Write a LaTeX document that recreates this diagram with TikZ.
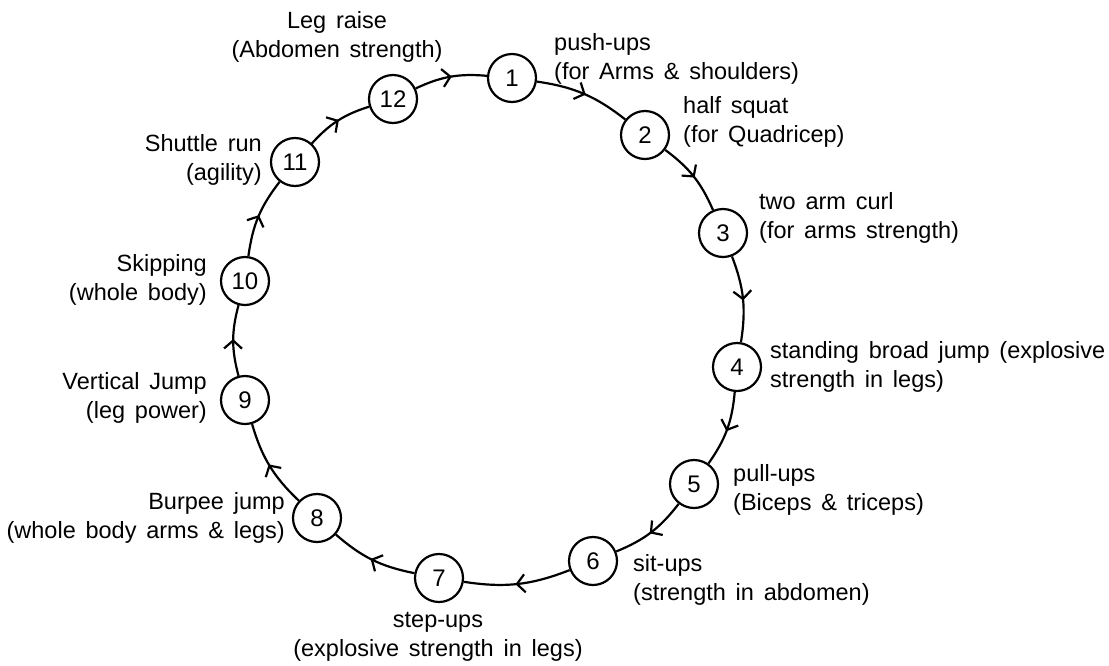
\documentclass[tikz,border=0pt]{standalone}
\usepackage{fontspec}
\setmainfont{Liberation Sans}[WordSpace=1.5]
\usetikzlibrary{arrows.meta,decorations.markings}
\begin{document}
\begin{tikzpicture}[x=1pt,y=-1pt,
  stepnode/.style={circle,draw,line width=2.2pt,minimum size=48pt,inner sep=0pt,
    font=\fontsize{24}{28}\selectfont},
  lbl/.style={inner sep=0pt,font=\fontsize{23.5}{29}\selectfont},
  flow/.style={line width=2.2pt,postaction={decorate},
    decoration={markings,mark=at position 0.52 with
      {\arrow{Straight Barb[length=8pt,width=18pt]}}}}
]
\useasboundingbox (0,0) rectangle (1109,665);

% stations of the circuit
\node[stepnode] (n1)  at (512,78)  {1};
\node[stepnode] (n2)  at (645,135) {2};
\node[stepnode] (n3)  at (723,233) {3};
\node[stepnode] (n4)  at (737,367) {4};
\node[stepnode] (n5)  at (694,484) {5};
\node[stepnode] (n6)  at (593,561) {6};
\node[stepnode] (n7)  at (439,578) {7};
\node[stepnode] (n8)  at (317,518) {8};
\node[stepnode] (n9)  at (245,400) {9};
\node[stepnode] (n10) at (245,281) {10};
\node[stepnode] (n11) at (295,162) {11};
\node[stepnode] (n12) at (393,99)  {12};

% exercise descriptions
\node[lbl,anchor=west,align=left]  (l1)  at (554,59)  {push-ups\\(for Arms \& shoulders)};
\node[lbl,anchor=west,align=left]  (l2)  at (683,122) {half squat\\(for Quadricep)};
\node[lbl,anchor=west,align=left]  (l3)  at (759,218) {two arm curl\\(for arms strength)};
\node[lbl,anchor=west,align=left]  (l4)  at (770,367) {standing broad jump (explosive\\strength in legs)};
\node[lbl,anchor=west,align=left]  (l5)  at (733,490) {pull-ups\\(Biceps \& triceps)};
\node[lbl,anchor=west,align=left]  (l6)  at (633,580) {sit-ups\\(strength in abdomen)};
\node[lbl,align=center]            (l7)  at (438,637) {step-ups\\(explosive strength in legs)};
\node[lbl,anchor=east,align=right] (l8)  at (285,518) {Burpee jump\\(whole body arms \& legs)};
\node[lbl,anchor=east,align=right] (l9)  at (207,398) {Vertical Jump\\(leg power)};
\node[lbl,anchor=east,align=right] (l10) at (207,280) {Skipping\\(whole body)};
\node[lbl,anchor=east,align=right] (l11) at (262,160) {Shuttle run\\(agility)};
\node[lbl,align=center]            (l12) at (337,37)  {Leg raise\\(Abdomen strength)};

% clockwise circuit
\draw[flow] (n1)  to[bend left=15] (n2);
\draw[flow] (n2)  to[bend left=15] (n3);
\draw[flow] (n3)  to[bend left=15] (n4);
\draw[flow] (n4)  to[bend left=15] (n5);
\draw[flow] (n5)  to[bend left=15] (n6);
\draw[flow] (n6)  to[bend left=15] (n7);
\draw[flow] (n7)  to[bend left=15] (n8);
\draw[flow] (n8)  to[bend left=15] (n9);
\draw[flow] (n9)  to[bend left=15] (n10);
\draw[flow] (n10) to[bend left=15] (n11);
\draw[flow] (n11) to[bend left=15] (n12);
\draw[flow] (n12) to[bend left=15] (n1);
\end{tikzpicture}
\end{document}
